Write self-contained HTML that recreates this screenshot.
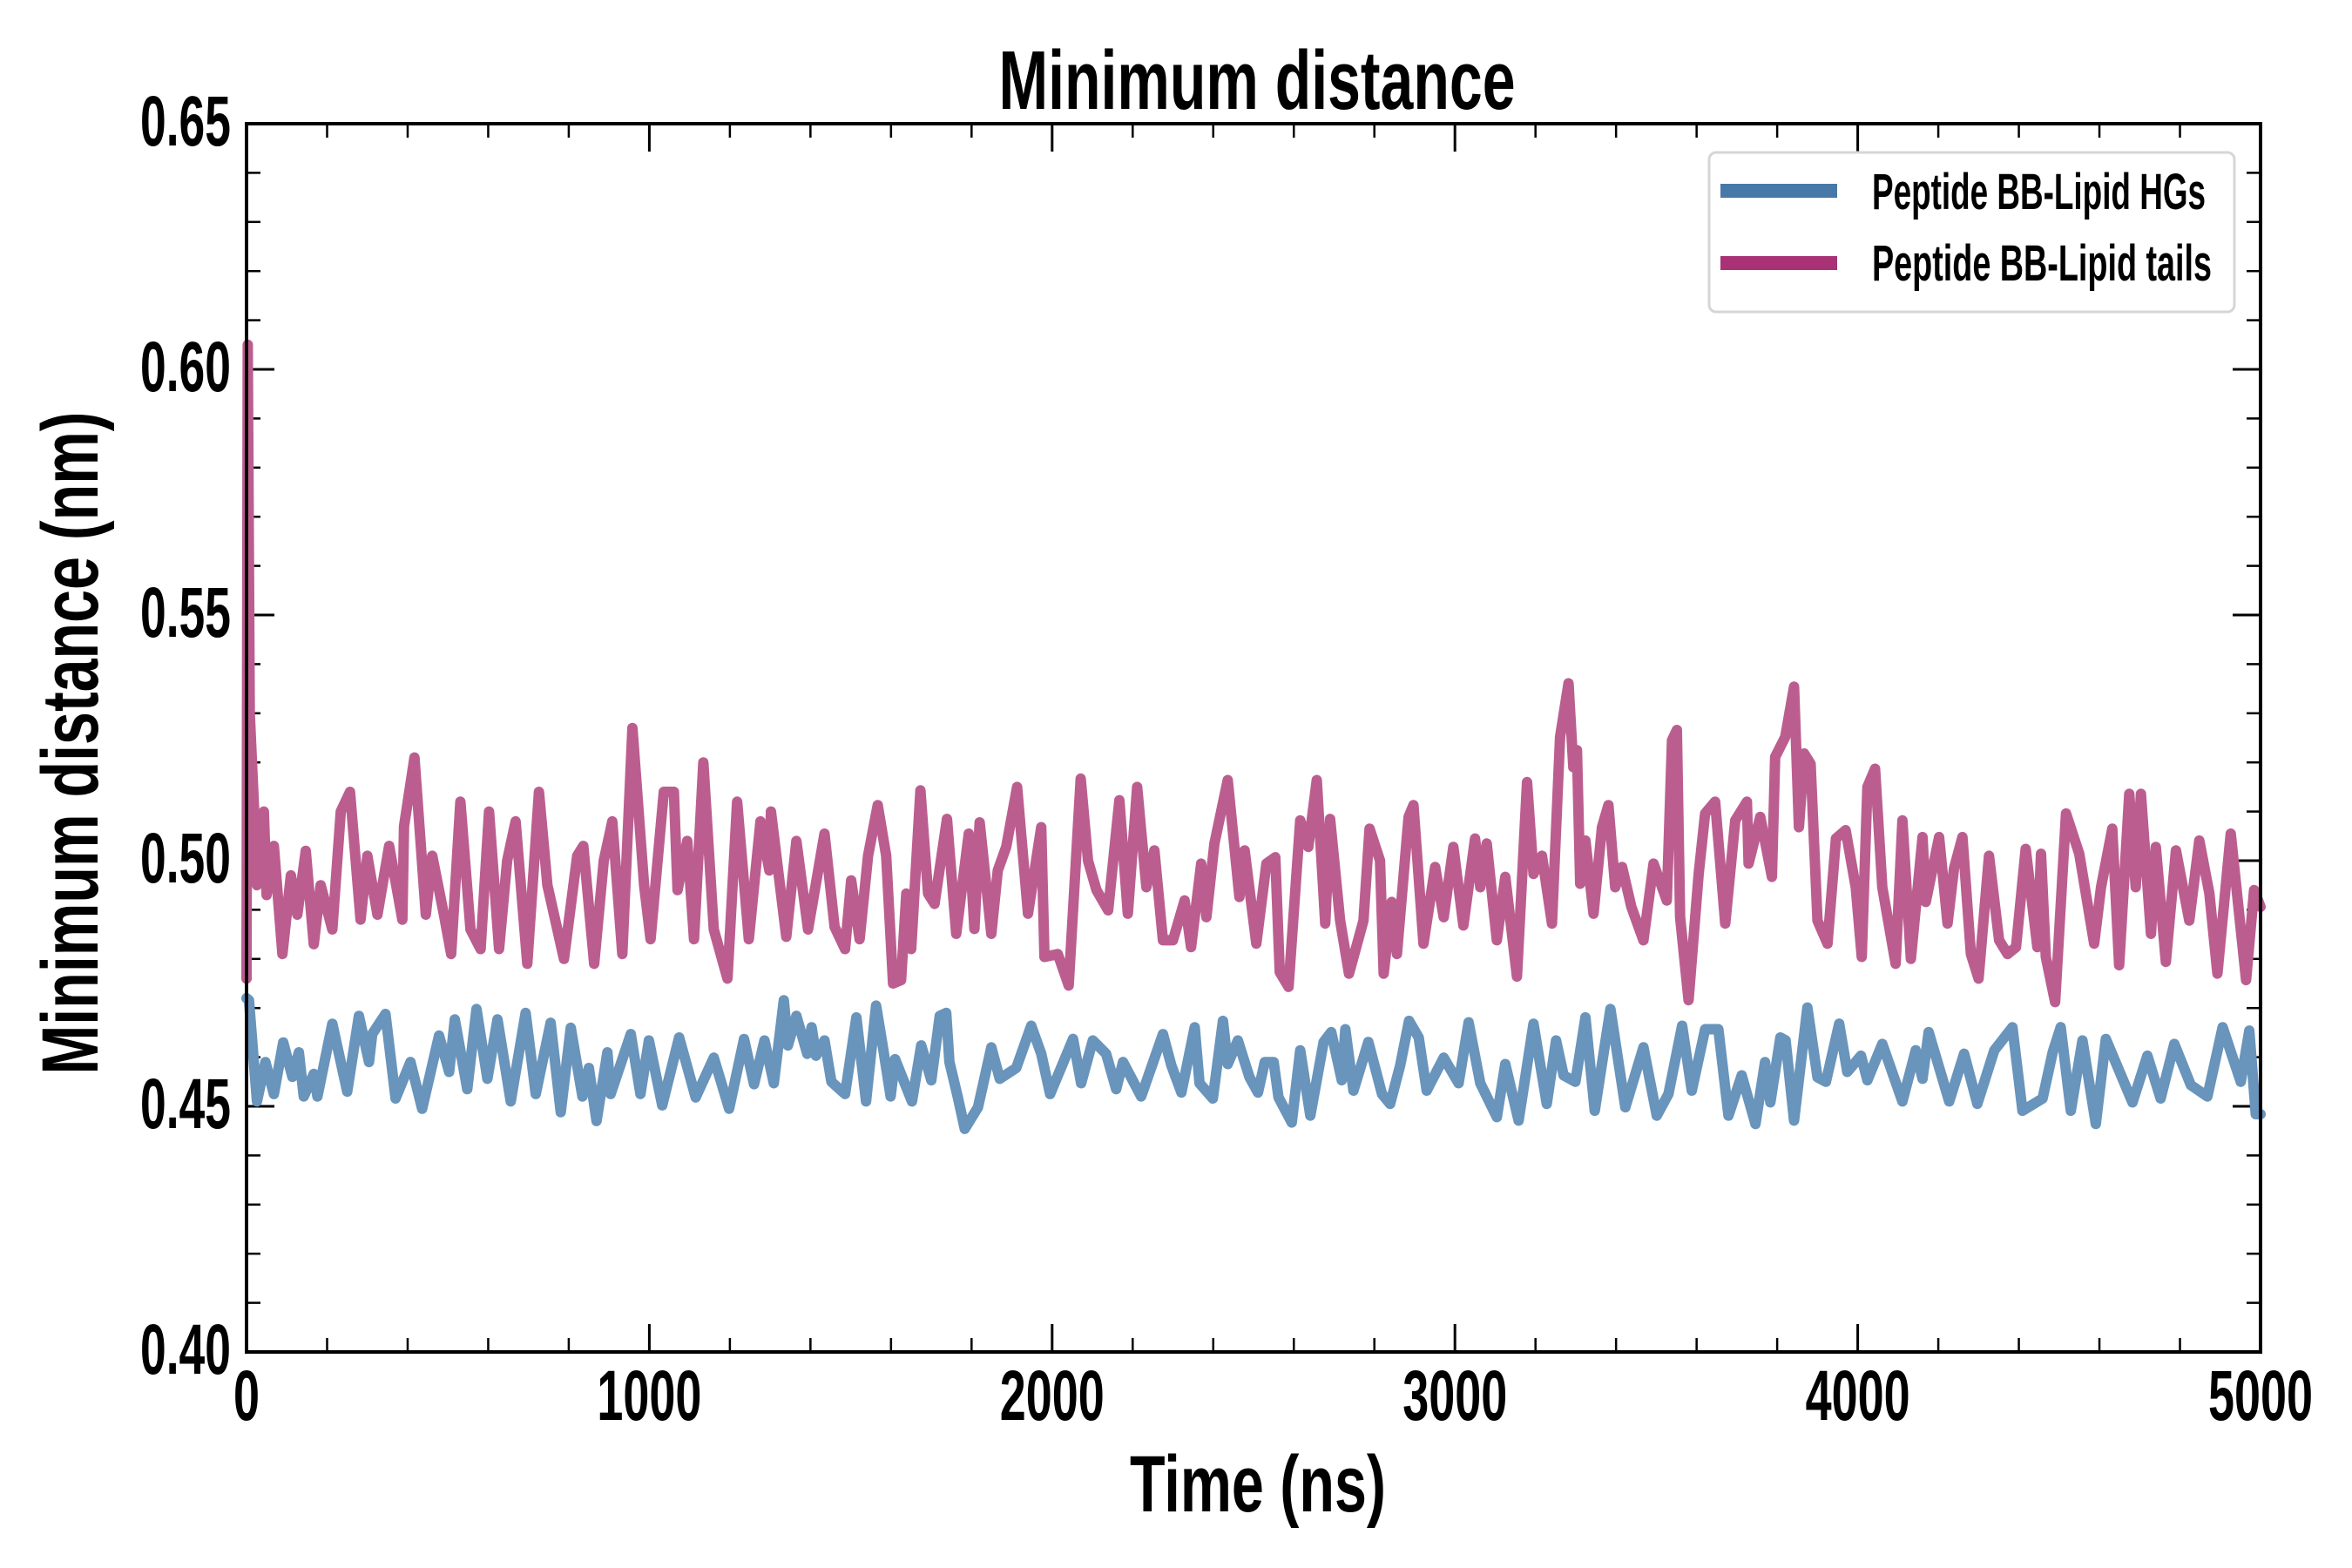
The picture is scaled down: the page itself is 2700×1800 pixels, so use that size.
<!DOCTYPE html>
<html><head><meta charset="utf-8"><style>
html,body{margin:0;padding:0;background:#fff;}
svg{display:block;}
text{font-family:"Liberation Sans Narrow","Liberation Sans",sans-serif;font-weight:bold;fill:#000;}
</style></head><body>
<svg id="chart" width="2700" height="1800" viewBox="0 0 2700 1800" xmlns="http://www.w3.org/2000/svg">
<rect width="2700" height="1800" fill="#fff"/>
<g id="ticks"></g>
<g id="series"></g>
<rect x="283" y="142" width="2312" height="1410" fill="none" stroke="#000" stroke-width="4"/>
<g id="labels"></g>
<text x="1443" y="125" font-size="96" text-anchor="middle" textLength="593" lengthAdjust="spacingAndGlyphs">Minimum distance</text>
<text x="1444" y="1735" font-size="92" text-anchor="middle" textLength="294" lengthAdjust="spacingAndGlyphs">Time (ns)</text>
<text x="0" y="0" font-size="92" text-anchor="middle" textLength="761" lengthAdjust="spacingAndGlyphs" transform="translate(112,853) rotate(-90)">Minimum distance (nm)</text>
<g>
<rect x="1962" y="175" width="603" height="183" rx="8" fill="#fff" stroke="#d6d6d6" stroke-width="3"/>
<line x1="1975" y1="219" x2="2109" y2="219" stroke="#4878a8" stroke-width="16"/>
<text x="2149" y="240" font-size="58" textLength="383" lengthAdjust="spacingAndGlyphs">Peptide BB-Lipid HGs</text>
<line x1="1975" y1="302" x2="2109" y2="302" stroke="#a83275" stroke-width="16"/>
<text x="2149" y="322" font-size="58" textLength="390" lengthAdjust="spacingAndGlyphs">Peptide BB-Lipid tails</text>
</g>
</svg>
<script>
const xTickValues=[0,1000,2000,3000,4000,5000];
const xTickLabels=["0","1000","2000","3000","4000","5000"];
const yTickValues=[0.40,0.45,0.50,0.55,0.60,0.65];
const yTickLabels=["0.40","0.45","0.50","0.55","0.60","0.65"];
const hgsTime=[0,6,26,47,68,91,114,130,142,167,176,213,250,279,304,312,345,370,407,436,478,503,517,548,571,598,623,656,693,718,755,780,805,834,850,869,896,904,954,978,999,1032,1074,1115,1160,1198,1235,1260,1286,1309,1334,1344,1365,1392,1403,1414,1435,1452,1486,1514,1538,1563,1580,1599,1610,1652,1675,1700,1721,1737,1745,1766,1783,1816,1849,1870,1911,1948,1973,1995,2052,2072,2101,2134,2159,2176,2221,2275,2296,2321,2354,2366,2399,2424,2436,2461,2490,2511,2528,2550,2562,2595,2616,2641,2674,2693,2719,2728,2748,2785,2819,2839,2864,2886,2910,2930,2972,3009,3034,3063,3104,3125,3158,3195,3228,3251,3270,3299,3324,3347,3386,3423,3468,3501,3530,3564,3588,3621,3654,3679,3712,3746,3770,3783,3808,3821,3842,3875,3900,3921,3954,3974,4008,4024,4061,4111,4144,4161,4176,4227,4264,4297,4339,4384,4409,4459,4484,4504,4529,4558,4591,4616,4682,4719,4752,4786,4827,4868,4906,4951,4972,4988,5000];
const hgsValues=[0.472,0.4716,0.451,0.459,0.4525,0.463,0.456,0.461,0.452,0.4566,0.452,0.4668,0.453,0.4684,0.459,0.4647,0.4688,0.4516,0.459,0.4495,0.4644,0.457,0.4677,0.4535,0.4698,0.4556,0.4677,0.451,0.469,0.4525,0.467,0.4488,0.466,0.452,0.4578,0.447,0.461,0.4525,0.4647,0.4525,0.4634,0.4502,0.464,0.4518,0.4599,0.4495,0.4637,0.4545,0.4634,0.4547,0.4716,0.4624,0.4684,0.4607,0.4661,0.4603,0.4634,0.455,0.4525,0.4681,0.451,0.4705,0.462,0.452,0.4596,0.451,0.4624,0.4553,0.4684,0.469,0.459,0.4518,0.4454,0.4498,0.462,0.4556,0.4578,0.4664,0.4607,0.4525,0.4637,0.4547,0.4634,0.4607,0.4535,0.459,0.452,0.4647,0.4583,0.4528,0.4661,0.4547,0.4516,0.4674,0.4586,0.4634,0.4559,0.4528,0.459,0.459,0.4518,0.4467,0.4614,0.4481,0.4631,0.4651,0.4553,0.4657,0.4532,0.4631,0.4525,0.4505,0.4583,0.4674,0.464,0.4532,0.4599,0.4547,0.4671,0.4547,0.4478,0.4586,0.4471,0.4668,0.4505,0.4634,0.4563,0.455,0.4681,0.4491,0.4698,0.4498,0.462,0.4481,0.4525,0.4664,0.4532,0.4657,0.4657,0.4481,0.4563,0.4464,0.459,0.4508,0.464,0.4634,0.4471,0.4701,0.4559,0.455,0.4668,0.457,0.4603,0.4553,0.4627,0.451,0.4614,0.4556,0.4651,0.451,0.4607,0.4505,0.4614,0.4661,0.4491,0.4516,0.461,0.4661,0.4491,0.4634,0.4464,0.4637,0.4508,0.4603,0.4516,0.4627,0.4543,0.452,0.4661,0.455,0.4654,0.4484,0.4484];
const tailsTime=[0,3,8,19,26,43,50,68,89,110,126,147,167,184,213,234,257,283,300,325,354,387,391,417,445,461,490,508,531,556,581,602,627,647,668,697,726,747,788,821,836,863,887,908,933,958,987,1003,1036,1061,1070,1094,1111,1134,1160,1194,1218,1247,1276,1298,1302,1340,1365,1394,1435,1460,1486,1501,1522,1543,1567,1588,1605,1625,1638,1650,1673,1692,1708,1739,1762,1793,1807,1820,1849,1865,1886,1913,1940,1973,1981,2014,2041,2071,2089,2110,2139,2167,2188,2211,2234,2254,2275,2300,2329,2345,2370,2383,2403,2436,2465,2478,2507,2532,2554,2565,2587,2616,2636,2657,2678,2690,2715,2737,2773,2788,2814,2823,2843,2856,2885,2897,2922,2951,2972,2996,3021,3050,3063,3079,3104,3125,3154,3179,3195,3216,3241,3261,3282,3294,3303,3311,3324,3344,3365,3381,3398,3415,3438,3468,3493,3526,3539,3551,3559,3580,3605,3621,3646,3671,3696,3725,3729,3758,3787,3795,3820,3842,3854,3867,3883,3900,3925,3946,3970,3995,4010,4024,4043,4061,4094,4111,4132,4161,4169,4202,4223,4239,4260,4281,4300,4326,4351,4372,4393,4417,4446,4455,4467,4490,4517,4550,4587,4604,4632,4649,4674,4690,4703,4728,4740,4765,4790,4823,4848,4873,4893,4926,4964,4984,5000];
const tailsValues=[0.476,0.605,0.53,0.51,0.495,0.51,0.493,0.503,0.481,0.497,0.489,0.502,0.483,0.495,0.486,0.51,0.514,0.488,0.501,0.489,0.503,0.488,0.507,0.521,0.489,0.501,0.489,0.481,0.512,0.486,0.482,0.51,0.482,0.5,0.508,0.479,0.514,0.495,0.48,0.501,0.503,0.479,0.5,0.508,0.481,0.527,0.495,0.484,0.514,0.514,0.494,0.504,0.484,0.52,0.486,0.476,0.512,0.484,0.508,0.498,0.51,0.4845,0.504,0.486,0.5055,0.4865,0.482,0.496,0.484,0.501,0.5113,0.501,0.475,0.4757,0.4933,0.482,0.5143,0.4933,0.4912,0.5085,0.4851,0.5055,0.4861,0.5078,0.4851,0.498,0.5028,0.515,0.4892,0.5068,0.4804,0.481,0.4746,0.5167,0.5,0.494,0.4899,0.5123,0.4892,0.515,0.4946,0.5021,0.4838,0.4838,0.4919,0.4824,0.4994,0.4885,0.5035,0.5164,0.4926,0.5021,0.4831,0.4994,0.5007,0.4773,0.4743,0.5082,0.5028,0.5164,0.4872,0.5085,0.4878,0.477,0.4878,0.5065,0.5,0.477,0.4916,0.481,0.5089,0.5113,0.4831,0.4987,0.4885,0.5028,0.4868,0.5045,0.4946,0.5035,0.4838,0.4967,0.4764,0.516,0.4973,0.501,0.4872,0.5252,0.5361,0.519,0.5225,0.4953,0.5041,0.4892,0.5068,0.5113,0.4946,0.4987,0.4906,0.4838,0.4994,0.4919,0.5245,0.5266,0.4885,0.4716,0.4973,0.5096,0.512,0.4872,0.5082,0.512,0.4994,0.5089,0.4967,0.5211,0.5252,0.5354,0.5068,0.5218,0.5197,0.4878,0.4831,0.5045,0.5062,0.4946,0.4804,0.515,0.5187,0.4946,0.479,0.5082,0.48,0.5048,0.4916,0.5048,0.4872,0.4984,0.5048,0.481,0.476,0.501,0.4838,0.481,0.4824,0.5024,0.4824,0.5014,0.4804,0.4712,0.5096,0.5014,0.4831,0.4946,0.5065,0.4787,0.5136,0.4946,0.5136,0.4851,0.5028,0.4794,0.5021,0.4878,0.5041,0.4933,0.477,0.5055,0.4757,0.494,0.4906];

const NS="http://www.w3.org/2000/svg";
const L=283,R=2595,T=142,B=1552;
function xScale(t){return L+(t-0)/(5000-0)*(R-L);}
function yScale(v){return B-(v-0.40)/(0.65-0.40)*(B-T);}
function mk(tag,attrs,parent){const e=document.createElementNS(NS,tag);for(const k in attrs)e.setAttribute(k,attrs[k]);parent.appendChild(e);return e;}

const ticks=document.getElementById('ticks');
for(let t=0;t<=5000;t+=200){
  const x=xScale(t);const major=(t%1000===0);const len=major?32:16;
  const a=mk('line',{x1:x,y1:B,x2:x,y2:B-len,stroke:'#000','stroke-width':major?3:2.5},ticks);
  
  
  const b=mk('line',{x1:x,y1:T,x2:x,y2:T+len,stroke:'#000','stroke-width':major?3:2.5},ticks);
  
  
}
for(let i=0;i<=25;i++){
  const v=0.40+i*0.01;const y=yScale(v);const major=(i%5===0);const len=major?32:16;
  const a=mk('line',{x1:L,y1:y,x2:L+len,y2:y,stroke:'#000','stroke-width':major?3:2.5},ticks);
  
  
  const b=mk('line',{x1:R,y1:y,x2:R-len,y2:y,stroke:'#000','stroke-width':major?3:2.5},ticks);
  
  
}
const labels=document.getElementById('labels');
xTickValues.forEach((t,i)=>{
  const s=xTickLabels[i];
  const e=mk('text',{x:xScale(t),y:1630,'font-size':82,'text-anchor':'middle',textLength:30*s.length,lengthAdjust:'spacingAndGlyphs'},labels);
  e.textContent=s;
  
  
});
yTickValues.forEach((v,i)=>{
  const e=mk('text',{x:265,y:yScale(v)+25,'font-size':82,'text-anchor':'end',textLength:104,lengthAdjust:'spacingAndGlyphs'},labels);
  e.textContent=yTickLabels[i];
  
  
});
const series=document.getElementById('series');
function drawLine(times,vals,color,name){
  let d='';
  for(let i=0;i<times.length;i++){d+=(i?'L':'M')+xScale(times[i]).toFixed(1)+','+yScale(vals[i]).toFixed(1);}
  const p=mk('path',{d:d,fill:'none',stroke:color,'stroke-width':12,'stroke-linejoin':'round','stroke-linecap':'round'},series);
  
  
}
drawLine(hgsTime,hgsValues,'#6994bb','line-hgs');
drawLine(tailsTime,tailsValues,'#bb5e8f','line-tails');
</script>
</body></html>
